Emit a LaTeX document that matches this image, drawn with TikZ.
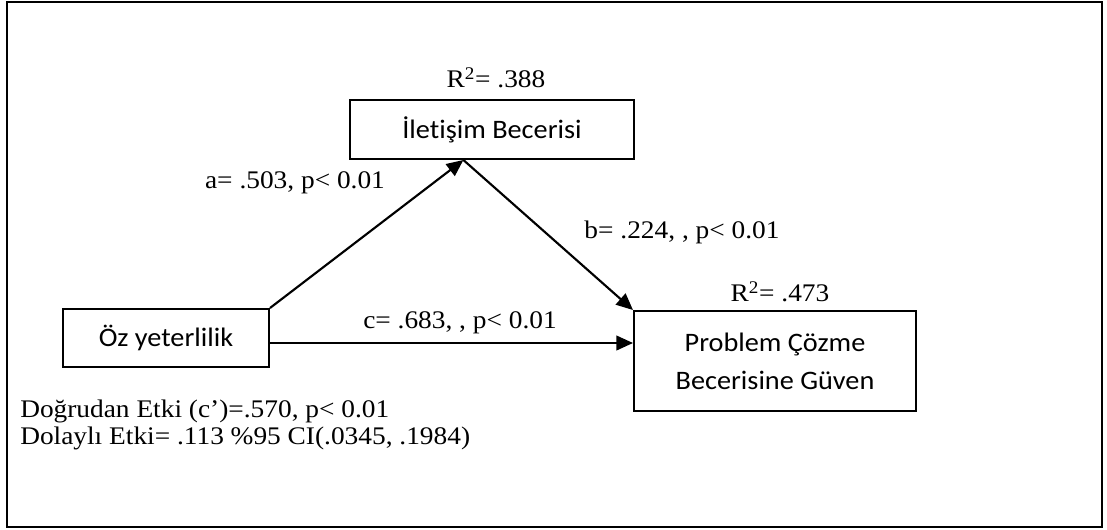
\documentclass[tikz,border=0pt]{standalone}
\usepackage{fontspec}
\usepackage{graphicx}
\setmainfont{Liberation Serif}
\newfontfamily\boxfont[Ligatures=NoCommon]{Carlito}
\usetikzlibrary{arrows.meta,calc}
\newcommand{\sx}[1]{\scalebox{1.06}[1]{#1}}
\newcommand{\lx}[1]{\scalebox{1.08}[1]{#1}}
\begin{document}
\begin{tikzpicture}[x=0.75pt,y=-0.75pt,
  varbox/.style={draw,line width=1.5pt,inner sep=0pt,align=center,
    font=\boxfont\fontsize{20}{28.5}\selectfont},
  lbl/.style={inner sep=0pt,font=\fontsize{19}{20.25}\selectfont},
  arr/.style={line width=1.6pt,-{Triangle[length=12.5pt,width=11pt]}}]
\useasboundingbox (0,0) rectangle (1107,529);
\draw[line width=1.5pt] (7,2) rectangle (1102,527);
\node[varbox,minimum width=213pt,minimum height=44.25pt] (ilet) at (492,129.5) {\sx{İletişim Becerisi}};
\node[varbox,minimum width=154.5pt,minimum height=43.5pt] (oz) at (166,338) {\sx{Öz yeterlilik}};
\node[varbox,minimum width=211.5pt,minimum height=75pt] (prob) at (775,361) {\sx{Problem Çözme}\\\sx{Becerisine Güven}};
\coordinate (atip) at ($(ilet.south west)!0.4!(ilet.south east)$);
\coordinate (cst) at ($(oz.east)+(0,5)$);
\draw[arr] (oz.north east) -- (atip);
\draw[arr] (atip) -- (prob.north west);
\draw[arr] (cst) -- (cst -| prob.west);
\node[lbl] (r1) at (496,78) {\lx{R\textsuperscript{2}= .388}};
\node[lbl] (r2) at (780,292) {\lx{R\textsuperscript{2}= .473}};
\node[lbl] (la) at (295,183) {\lx{a= .503, p< 0.01}};
\node[lbl] (lb) at (682,232) {\lx{b= .224, , p< 0.01}};
\node[lbl] (lc) at (460,323) {\lx{c= .683, , p< 0.01}};
\node[lbl,anchor=west,align=left] (eff) at (20,425) {\lx{Doğrudan Etki (c’)=.570, p< 0.01}\\\lx{Dolaylı Etki= .113 \%95 CI(.0345, .1984)}};
\end{tikzpicture}
\end{document}
